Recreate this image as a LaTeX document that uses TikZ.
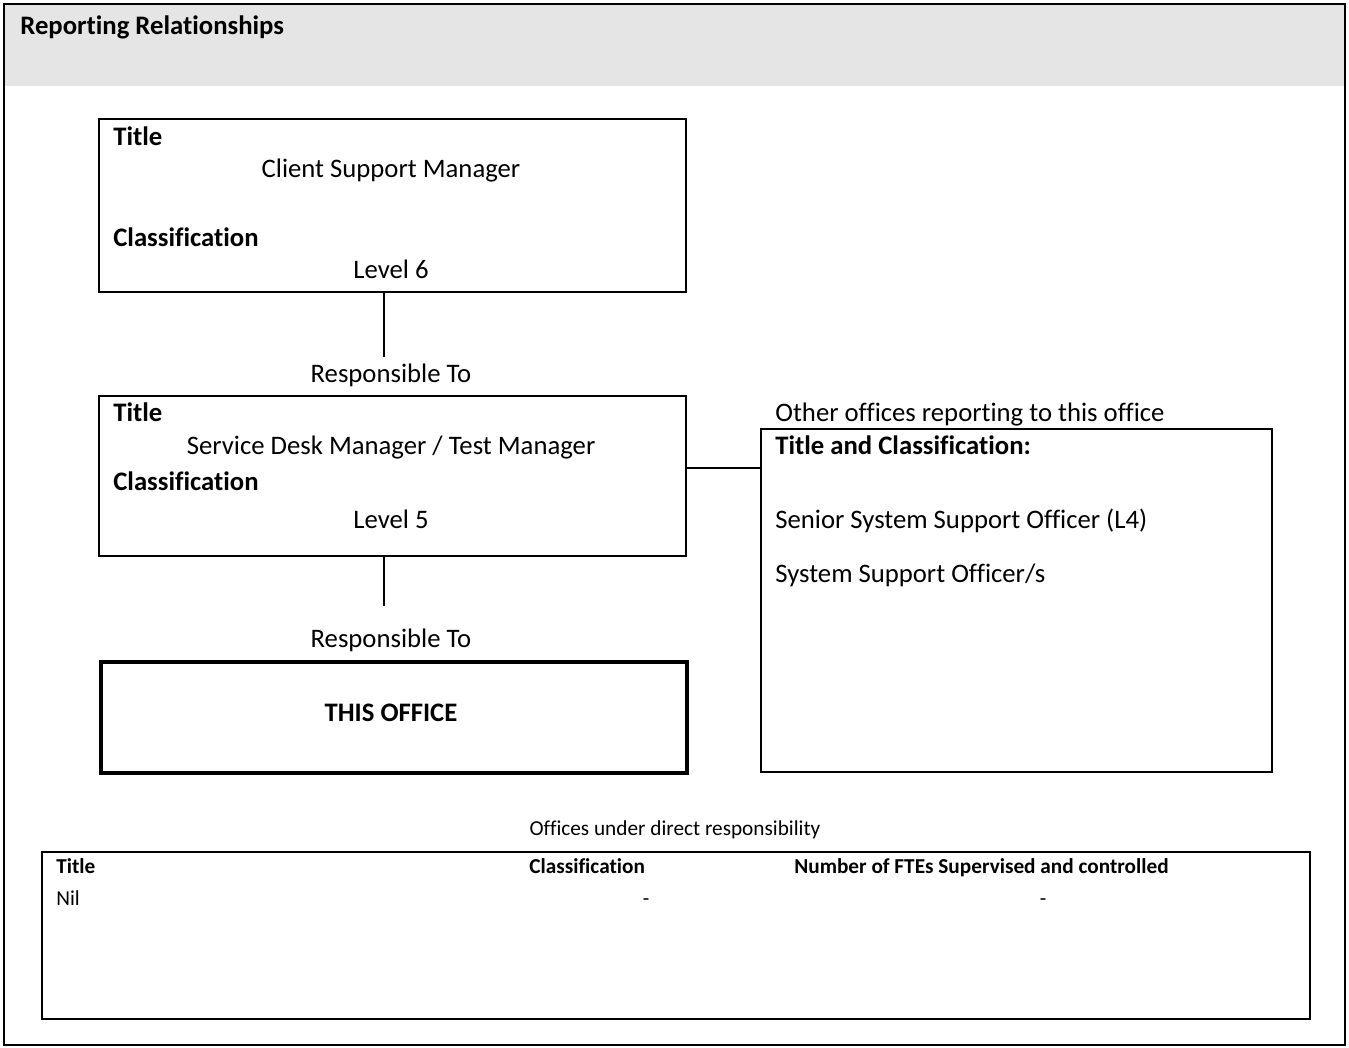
\documentclass[tikz,border=0pt]{standalone}
\usepackage{fontspec}
\setmainfont[Ligatures=NoCommon]{Carlito}
\usepackage{tikz}
\usetikzlibrary{positioning, calc}

\begin{document}
\begin{tikzpicture}[x=0.02cm, y=-0.02cm, font=\fontsize{15.2}{18}\selectfont]
\tikzstyle{box}=[rectangle, draw, line width=1.2pt, inner sep=0pt, anchor=north west]
\tikzstyle{office}=[box, line width=2.4pt]
\tikzstyle{txt}=[inner sep=0pt, text height=0.66em, text depth=0.02em, yshift=-0.06cm]
\tikzstyle{lbl}=[txt, anchor=west]
\tikzstyle{head}=[lbl, font=\fontsize{15.2}{18}\selectfont\bfseries]
\tikzstyle{small}=[txt, font=\fontsize{12.1}{14}\selectfont]
\tikzstyle{smallhead}=[small, anchor=west, font=\fontsize{12.1}{14}\selectfont\bfseries]
\tikzstyle{wire}=[line width=1.2pt]

\useasboundingbox (0,0) rectangle (1349,1048);
% frame and header band
\fill[gray!20] (4,4) rectangle (1345,86);
\draw[line width=1.2pt] (4,4) rectangle (1345,1045);
\node[head] (heading) at (20,26) {Reporting Relationships};

% client support manager
\node[box, minimum width=587*0.02cm, minimum height=173*0.02cm] (box1) at (98,118) {};
\node[head] (t1) at (113,137) {Title};
\node[txt] (n1) at (391,169) {Client Support Manager};
\node[head] (c1) at (113,238) {Classification};
\node[txt] (l1) at (391,270) {Level 6};
\node[txt] (resp1) at (391,374) {Responsible To};

% service desk manager
\node[box, minimum width=587*0.02cm, minimum height=160*0.02cm] (box2) at (98,395) {};
\node[head] (t2) at (113,413) {Title};
\node[txt] (n2) at (391,446) {Service Desk Manager / Test Manager};
\node[head] (c2) at (113,482) {Classification};
\node[txt] (l2) at (391,520) {Level 5};
\node[txt] (resp2) at (391,639) {Responsible To};

% this office
\node[office, minimum width=586*0.02cm, minimum height=111*0.02cm] (box3) at (99,660) {};
\node[txt, font=\fontsize{15.2}{18}\selectfont\bfseries] (this) at (391,713) {THIS OFFICE};

% other offices
\node[lbl] (other) at (775,413) {Other offices reporting to this office};
\node[box, minimum width=511*0.02cm, minimum height=343*0.02cm] (box4) at (760,428) {};
\node[head] (tc) at (775,446) {Title and Classification:};
\node[lbl] (o1) at (775,520) {Senior System Support Officer (L4)};
\node[lbl] (o2) at (775,574) {System Support Officer/s};

\draw[wire] ([xshift=-0.18cm]box1.south) -- ([xshift=-0.18cm]box1.south |- 0,357);
\draw[wire] ([xshift=-0.18cm]box2.south) -- ([xshift=-0.18cm]box2.south |- 0,606);
\coordinate (tie) at (0,468);
\draw[wire] (box2.east |- tie) -- (box4.west |- tie);

% offices under direct responsibility
\node[small] (under) at (675,827) {Offices under direct responsibility};
\node[box, minimum width=1268*0.02cm, minimum height=167*0.02cm] (tbl) at (41,851) {};
\node[smallhead] (ct) at (56,865) {Title};
\node[smallhead] (cc) at (529,865) {Classification};
\node[smallhead] (cf) at (794,865) {Number of FTEs Supervised and controlled};
\node[small, anchor=west] (nil) at (56,897) {Nil};
\node[small] (d1) at (646,897) {-};
\node[small] (d2) at (1043,897) {-};
\end{tikzpicture}
\end{document}
